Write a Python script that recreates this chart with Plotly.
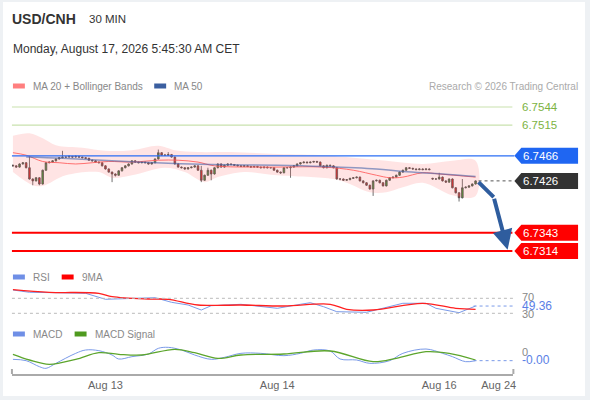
import plotly.graph_objects as go

W, H = 590, 400
PLOT_BOTTOM = 374  # pixel row of the time axis

# ---------------- data ----------------
closes = [
    6.7450, 6.7448, 6.7453, 6.7455, 6.7447, 6.7429, 6.7426, 6.7431, 6.7421, 6.7443,
    6.7455, 6.7456, 6.7458, 6.7461, 6.7463, 6.7464, 6.7464, 6.7465, 6.7464, 6.7465,
    6.7464, 6.7463, 6.7462, 6.7459, 6.7458, 6.7456, 6.7455, 6.7450, 6.7445, 6.7440,
    6.7437, 6.7435, 6.7442, 6.7447, 6.7450, 6.7453, 6.7458, 6.7456, 6.7455, 6.7456,
    6.7455, 6.7453, 6.7455, 6.7461, 6.7471, 6.7467, 6.7467, 6.7468, 6.7464, 6.7453,
    6.7448, 6.7447, 6.7445, 6.7447, 6.7448, 6.7450, 6.7443, 6.7427, 6.7435, 6.7443,
    6.7437, 6.7447, 6.7453, 6.7448, 6.7451, 6.7453, 6.7452, 6.7451, 6.7450, 6.7449,
    6.7450, 6.7449, 6.7448, 6.7449, 6.7448, 6.7447, 6.7448, 6.7447, 6.7447, 6.7443,
    6.7440, 6.7439, 6.7447, 6.7447, 6.7448, 6.7450, 6.7453, 6.7455, 6.7456, 6.7455,
    6.7456, 6.7457, 6.7456, 6.7450, 6.7447, 6.7451, 6.7450, 6.7447, 6.7429, 6.7429,
    6.7427, 6.7428, 6.7430, 6.7431, 6.7432, 6.7426, 6.7423, 6.7419, 6.7413, 6.7426,
    6.7427, 6.7423, 6.7418, 6.7427, 6.7431, 6.7432, 6.7435, 6.7440, 6.7443, 6.7447,
    6.7446, 6.7445, 6.7444, 6.7445, 6.7444, 6.7445, 6.7444, 6.7429, 6.7429, 6.7432,
    6.7426, 6.7424, 6.7429, 6.7415, 6.7407, 6.7399, 6.7415, 6.7416, 6.7418, 6.7421,
    6.7426,
]
opens = [6.7451] + closes[:-1]
opens[127] = 6.7430  # weekend gap
highs = [
    6.7452, 6.7451, 6.7454, 6.7456, 6.7456, 6.7466, 6.7430, 6.7432, 6.7432, 6.7444,
    6.7456, 6.7457, 6.7459, 6.7462, 6.7464, 6.7474, 6.7465, 6.7467, 6.7466, 6.7467,
    6.7466, 6.7465, 6.7464, 6.7463, 6.7460, 6.7459, 6.7457, 6.7456, 6.7451, 6.7446,
    6.7441, 6.7438, 6.7443, 6.7448, 6.7451, 6.7454, 6.7459, 6.7459, 6.7457, 6.7457,
    6.7457, 6.7456, 6.7456, 6.7462, 6.7476, 6.7472, 6.7469, 6.7472, 6.7469, 6.7465,
    6.7454, 6.7449, 6.7448, 6.7448, 6.7449, 6.7451, 6.7451, 6.7450, 6.7436, 6.7447,
    6.7444, 6.7448, 6.7454, 6.7454, 6.7452, 6.7454, 6.7454, 6.7453, 6.7452, 6.7451,
    6.7451, 6.7451, 6.7450, 6.7450, 6.7450, 6.7449, 6.7449, 6.7449, 6.7448, 6.7448,
    6.7444, 6.7441, 6.7448, 6.7448, 6.7449, 6.7451, 6.7454, 6.7456, 6.7457, 6.7457,
    6.7457, 6.7458, 6.7458, 6.7457, 6.7451, 6.7452, 6.7452, 6.7451, 6.7448, 6.7430,
    6.7430, 6.7429, 6.7431, 6.7432, 6.7433, 6.7433, 6.7427, 6.7424, 6.7420, 6.7427,
    6.7428, 6.7428, 6.7424, 6.7428, 6.7432, 6.7433, 6.7436, 6.7441, 6.7444, 6.7448,
    6.7448, 6.7447, 6.7446, 6.7446, 6.7446, 6.7446, 6.7446, 6.7431, 6.7430, 6.7439,
    6.7433, 6.7427, 6.7430, 6.7430, 6.7416, 6.7408, 6.7429, 6.7417, 6.7419, 6.7422,
    6.7427,
]
lows = [
    6.7449, 6.7447, 6.7447, 6.7452, 6.7446, 6.7428, 6.7419, 6.7425, 6.7419, 6.7420,
    6.7442, 6.7454, 6.7455, 6.7457, 6.7460, 6.7462, 6.7463, 6.7463, 6.7463, 6.7463,
    6.7463, 6.7462, 6.7461, 6.7458, 6.7457, 6.7455, 6.7454, 6.7449, 6.7444, 6.7439,
    6.7424, 6.7433, 6.7434, 6.7441, 6.7446, 6.7449, 6.7452, 6.7455, 6.7454, 6.7454,
    6.7454, 6.7452, 6.7452, 6.7454, 6.7460, 6.7466, 6.7466, 6.7466, 6.7463, 6.7452,
    6.7447, 6.7446, 6.7444, 6.7444, 6.7446, 6.7447, 6.7442, 6.7424, 6.7426, 6.7434,
    6.7427, 6.7436, 6.7446, 6.7447, 6.7447, 6.7450, 6.7451, 6.7450, 6.7449, 6.7448,
    6.7448, 6.7448, 6.7447, 6.7447, 6.7447, 6.7446, 6.7446, 6.7446, 6.7446, 6.7442,
    6.7439, 6.7437, 6.7438, 6.7446, 6.7431, 6.7447, 6.7449, 6.7452, 6.7454, 6.7454,
    6.7454, 6.7455, 6.7455, 6.7449, 6.7446, 6.7446, 6.7449, 6.7446, 6.7428, 6.7427,
    6.7426, 6.7426, 6.7427, 6.7429, 6.7430, 6.7425, 6.7422, 6.7418, 6.7412, 6.7402,
    6.7425, 6.7422, 6.7417, 6.7417, 6.7426, 6.7430, 6.7431, 6.7434, 6.7439, 6.7442,
    6.7445, 6.7444, 6.7443, 6.7443, 6.7443, 6.7443, 6.7443, 6.7428, 6.7428, 6.7428,
    6.7425, 6.7423, 6.7423, 6.7414, 6.7406, 6.7393, 6.7398, 6.7414, 6.7415, 6.7417,
    6.7420,
]
bars = list(range(len(closes)))

ma20_bars = [0, 4, 9, 14, 19, 24, 29, 36, 44, 50, 56, 61, 76, 94, 103, 110, 114, 118, 124, 129, 140]
ma20 = [6.7471, 6.7467, 6.7457, 6.7455, 6.7453, 6.7455, 6.7457, 6.7456, 6.7459, 6.7459, 6.7456,
        6.7450, 6.7448, 6.7448, 6.7443, 6.7435, 6.7431, 6.7432, 6.7439, 6.7437, 6.7432]
ma50_bars = [4, 15, 30, 47, 60, 80, 94, 110, 118, 130, 140]
ma50 = [6.7464, 6.7462, 6.7458, 6.7454, 6.7452, 6.7451, 6.7449, 6.7445, 6.7441, 6.7437, 6.7433]
upper_bars = [0, 5, 9, 13, 21, 28, 36, 44, 49, 56, 66, 80, 94, 103, 113, 124, 133, 140]
upper_band = [6.7498, 6.7502, 6.7494, 6.7483, 6.7479, 6.7474, 6.7475, 6.7482, 6.7475, 6.7472,
              6.7472, 6.7469, 6.7467, 6.7463, 6.7458, 6.7453, 6.7458, 6.7458]
lower_bars = [0, 6, 9, 16, 26, 30, 36, 46, 52, 58, 62, 70, 80, 97, 101, 108, 113, 118, 124, 133, 140]
lower_band = [6.7440, 6.7419, 6.7418, 6.7435, 6.7440, 6.7431, 6.7435, 6.7447, 6.7440, 6.7424,
              6.7432, 6.7440, 6.7435, 6.7429, 6.7423, 6.7408, 6.7408, 6.7416, 6.7423, 6.7403, 6.7402]

rsi_bars = [0, 5, 13, 22, 28, 33, 43, 48, 53, 57, 60, 69, 80, 87, 90, 94, 98, 107, 112, 118,
            125, 128, 135, 137, 140]
rsi = [92.1, 86.0, 84.9, 83.3, 67.3, 68.9, 71.6, 59.3, 52.1, 38.8, 50.3, 54.0, 43.3, 54.0, 58.3,
       47.6, 34.3, 32.7, 43.3, 56.7, 56.7, 43.3, 31.6, 38.8, 49.36]
rsi_ma_bars = [0, 11, 26, 30, 41, 47, 56, 69, 82, 96, 101, 109, 124, 134, 140]
rsi_ma = [92.9, 86.0, 83.3, 74.3, 68.1, 67.3, 52.1, 52.1, 49.5, 54.0, 40.7, 38.8, 56.7, 43.3, 40.7]

macd_bars = [0, 4, 8, 10, 13, 19, 22, 26, 30, 32, 36, 41, 44, 47, 51, 55, 60, 64, 69, 75, 82,
             87, 91, 96, 99, 104, 108, 114, 118, 125, 130, 133, 137, 140]
macd = [-0.00010, -0.00014, -0.00032, -0.00037, -0.00022, 0.00008, 0.00018, 0.00016, 0.00003,
        -0.00009, -0.00002, 0.00006, 0.00023, 0.00026, 0.00018, 0.00003, -0.00010, -0.00004,
        0.00008, 0.00008, 0.00001, 0.00008, 0.00018, 0.00015, -0.00009, -0.00012, -0.00022,
        -0.00014, 0.00008, 0.00021, 0.00008, -0.00002, -0.00017, -0.00014]
signal_bars = [0, 5, 11, 19, 26, 32, 39, 49, 55, 62, 69, 82, 96, 109, 116, 125, 132, 140]
signal = [0.00005, -0.00012, -0.00025, -0.00010, 0.00010, 0.00005, 0.00003, 0.00020, 0.00010,
          -0.00007, 0.00003, 0.00006, 0.00015, -0.00017, -0.00007, 0.00013, 0.00008, -0.00012]

resistance_2 = 6.7544
resistance_1 = 6.7515
pivot = 6.7466
last_price = 6.7426
support_1 = 6.7343
support_2 = 6.7314

forecast_bars = [140.9, 145.5, 149.7]
forecast_path = [6.7424, 6.7400, 6.7316]

tick_bars = [28, 80, 129, 147]
tick_labels = ["Aug 13", "Aug 14", "Aug 16", "Aug 24"]

# ---------------- helpers ----------------
FONT = "Liberation Sans, Arial, sans-serif"


def px_x(px):
    return px / W


def px_y(py):
    return (PLOT_BOTTOM - py) / PLOT_BOTTOM


def axis_range(py_a, va, py_b, vb):
    per_px = (va - vb) / (py_b - py_a)
    top = va + py_a * per_px
    bottom = va - (PLOT_BOTTOM - py_a) * per_px
    return [bottom, top], per_px


price_range, price_per_px = axis_range(107, resistance_2, 251, support_2)
rsi_range, _ = axis_range(298.3, 70, 313.3, 30)
macd_range, _ = axis_range(346, 0.0003, 356, 0.0)

bar_per_px = (len(closes) - 1) / (478 - 13)
x_range = [-(13 - 12) * bar_per_px, (516 - 13) * bar_per_px]

fig = go.Figure()

# bollinger band
fig.add_trace(go.Scatter(
    x=upper_bars + lower_bars[::-1],
    y=upper_band + lower_band[::-1],
    fill='toself', fillcolor='rgba(255,120,120,0.2)',
    line=dict(width=0, shape='spline'), mode='lines', hoverinfo='skip'
))
fig.add_trace(go.Scatter(
    x=ma20_bars, y=ma20, mode='lines',
    line=dict(color='rgba(255,90,90,0.85)', width=1, shape='spline'), hoverinfo='skip'
))
fig.add_trace(go.Scatter(
    x=ma50_bars, y=ma50, mode='lines',
    line=dict(color='rgba(70,100,170,0.6)', width=1.5, shape='spline'), hoverinfo='skip'
))

fig.add_trace(go.Candlestick(
    x=bars, open=opens, high=highs, low=lows, close=closes,
    increasing=dict(line=dict(color='#4a4a4a', width=0.8), fillcolor='#2e9a2e'),
    decreasing=dict(line=dict(color='#4a4a4a', width=0.8), fillcolor='#e31b1b'),
    whiskerwidth=0, hoverinfo='skip'
))

# RSI panel
fig.add_trace(go.Scatter(
    x=rsi_bars, y=rsi, yaxis='y2', mode='lines',
    line=dict(color='#7a9ae8', width=1), hoverinfo='skip'
))
fig.add_trace(go.Scatter(
    x=rsi_ma_bars, y=rsi_ma, yaxis='y2', mode='lines',
    line=dict(color='#ff2020', width=1.3, shape='spline'), hoverinfo='skip'
))

# MACD panel
fig.add_trace(go.Scatter(
    x=macd_bars, y=macd, yaxis='y3', mode='lines',
    line=dict(color='#7a9ae8', width=1, shape='spline'), hoverinfo='skip'
))
fig.add_trace(go.Scatter(
    x=signal_bars, y=signal, yaxis='y3', mode='lines',
    line=dict(color='#5ca52c', width=1.3, shape='spline'), hoverinfo='skip'
))

shapes = []
annotations = []

# card background
shapes.append(dict(type='rect', xref='paper', yref='paper', layer='below',
                   x0=px_x(3), x1=px_x(588), y0=px_y(396), y1=px_y(2),
                   fillcolor='white', line=dict(width=0)))


def hline(level, color, width, x1=515, dash='solid', yref='y', x0=12):
    shapes.append(dict(type='line', xref='paper', yref=yref,
                       x0=px_x(x0), x1=px_x(x1), y0=level, y1=level,
                       line=dict(color=color, width=width, dash=dash)))


def text(px, py, s, size=11, color='#333', anchor='left', bold=False, yref='paper', y=None):
    annotations.append(dict(
        xref='paper', yref=yref, x=px_x(px), y=px_y(py) if y is None else y,
        text=f"<b>{s}</b>" if bold else s, showarrow=False,
        xanchor=anchor, yanchor='middle', xshift=-2 if anchor == 'left' else 2,
        font=dict(family=FONT, size=size, color=color)))


def level_box(level, color):
    half = 8 * price_per_px
    path = (f"M {px_x(517)},{level} L {px_x(524)},{level + half} L {px_x(581)},{level + half} "
            f"L {px_x(581)},{level - half} L {px_x(524)},{level - half} Z")
    shapes.append(dict(type='path', xref='paper', yref='y', path=path,
                       fillcolor=color, line=dict(width=0)))
    text(526, 0, f"{level:.4f}", size=11.5, color='white', yref='y', y=level)


# levels
for lvl in (resistance_2, resistance_1):
    hline(lvl, '#c9e2ae', 1.2)
    text(525, 0, f"{lvl:.4f}", size=11.5, color='#7cb342', yref='y', y=lvl)
hline(pivot, '#2a6ef5', 1.3, x1=517)
level_box(pivot, '#1f66f2')
for lvl in (support_1, support_2):
    hline(lvl, '#ff0000', 2)
    level_box(lvl, '#ff0000')
hline(last_price, '#555', 1, x0=481, x1=515, dash='dot')
level_box(last_price, '#333333')

# forecast arrow
shapes.append(dict(type='line', xref='x', yref='y',
                   x0=forecast_bars[0], y0=forecast_path[0], x1=forecast_bars[1], y1=forecast_path[1],
                   line=dict(color='#2f5d9e', width=4)))
annotations.append(dict(xref='x', yref='y', axref='x', ayref='y',
                        x=forecast_bars[2], y=forecast_path[2],
                        ax=forecast_bars[1], ay=forecast_path[1],
                        showarrow=True, text='', arrowhead=2, arrowsize=1,
                        arrowwidth=4, arrowcolor='#2f5d9e', standoff=0))

# RSI guides
for lvl in (70, 30):
    hline(lvl, '#bbbbbb', 1, x1=517, dash='dot', yref='y2')
hline(rsi[-1], '#7a9ae8', 1, x0=476, x1=517, dash='dot', yref='y2')
text(525, 297, "70", size=11, color='#888')
text(525, 314, "30", size=11, color='#888')
text(525, 306, f"{rsi[-1]:.2f}", size=12, color='#5a80e6')

# MACD guides
hline(macd[-1], '#7a9ae8', 1, x0=476, x1=517, dash='dot', yref='y3')
text(525, 352, "0", size=11, color='#888')
text(525, 360, f"{macd[-1]:.2f}", size=12, color='#5a80e6')

# time axis end ticks
for px in (12, 516):
    shapes.append(dict(type='line', xref='paper', yref='paper',
                       x0=px_x(px), x1=px_x(px), y0=px_y(374), y1=px_y(369),
                       line=dict(color='#aaaaaa', width=2)))

# header texts
text(12, 19, "USD/CNH", size=14, color='#333', bold=True)
text(89, 19, "30 MIN", size=11.5, color='#333')
text(13, 49, "Monday, August 17, 2026 5:45:30 AM CET", size=12, color='#333')
text(581, 86, "Research \u00a9 2026 Trading Central", size=10, color='#aaaaaa', anchor='right')


def legend_item(px, py, color, label):
    shapes.append(dict(type='rect', xref='paper', yref='paper',
                       x0=px_x(px), x1=px_x(px + 12), y0=px_y(py + 2.5), y1=px_y(py - 2.5),
                       fillcolor=color, line=dict(width=0)))
    text(px + 20, py, label, size=10, color='#888')


legend_item(13, 86, '#ff7f7f', "MA 20 + Bollinger Bands")
legend_item(155, 86, '#3b5fa0', "MA 50")
legend_item(13, 277, '#6f8fe6', "RSI")
legend_item(62, 277, '#ff0000', "9MA")
legend_item(13, 334, '#6f8fe6', "MACD")
legend_item(75, 334, '#4f9a1f', "MACD Signal")

fig.update_layout(
    width=W, height=H,
    margin=dict(l=0, r=0, t=0, b=H - PLOT_BOTTOM),
    paper_bgcolor='#eef1f4', plot_bgcolor='rgba(0,0,0,0)',
    showlegend=False,
    xaxis=dict(domain=[px_x(12), px_x(516)], range=x_range, rangeslider=dict(visible=False),
               showgrid=False, zeroline=False, showline=True, linecolor='#aaaaaa', linewidth=2,
               tickvals=tick_bars, ticktext=tick_labels, ticks='',
               tickfont=dict(family=FONT, size=11, color='#666')),
    yaxis=dict(range=price_range, visible=False, fixedrange=True),
    yaxis2=dict(range=rsi_range, visible=False, overlaying='y', anchor='x'),
    yaxis3=dict(range=macd_range, visible=False, overlaying='y', anchor='x'),
    shapes=shapes,
    annotations=annotations,
)

# the page body has a default margin; drop it so the chart fills the window
fig.write_html("out.html", config={"displayModeBar": False},
               post_script="document.body.style.margin = '0';")
